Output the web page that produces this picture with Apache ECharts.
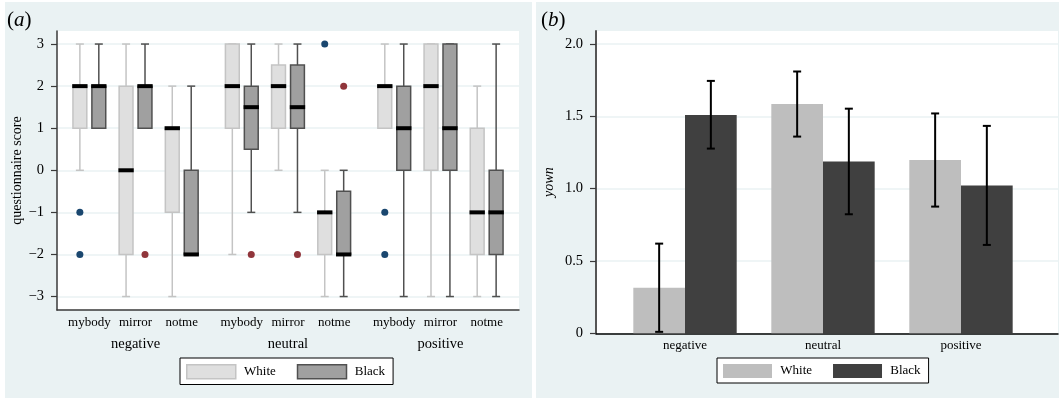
<!DOCTYPE html>
<html>
<head>
<meta charset="utf-8">
<script src="https://cdn.jsdelivr.net/npm/echarts@6/dist/echarts.min.js"></script>
<style>
  html, body { margin: 0; padding: 0; background: #ffffff; }
  .panel { position: absolute; top: 2px; height: 396px; background: #eaf2f3; }
  #panelA { left: 5px; width: 527px; }
  #panelB { left: 536px; width: 523px; }
</style>
</head>
<body>
<div id="panelA" class="panel"></div>
<div id="panelB" class="panel"></div>
<script>
// ---- data: panel (a), questionnaire scores ----
const groups = ['negative', 'neutral', 'positive'];
const conditions = ['mybody', 'mirror', 'notme'];
const scoreTicks = [-3, -2, -1, 0, 1, 2, 3];
const scoreTickLabels = ['−3', '−2', '−1', '0', '1', '2', '3'];

// [lower whisker, q1, median, q3, upper whisker]; rows run group by group, condition by condition
const whiteBoxes = [
  [0, 1, 2, 2, 3],
  [-3, -2, 0, 2, 3],
  [-3, -1, 1, 1, 2],
  [-2, 1, 2, 3, 3],
  [0, 1, 2, 2.5, 3],
  [-3, -2, -1, -1, 0],
  [1, 1, 2, 2, 3],
  [-3, 0, 2, 3, 3],
  [-3, -2, -1, 1, 2]
];
const blackBoxes = [
  [1, 1, 2, 2, 3],
  [1, 1, 2, 2, 3],
  [-2, -2, -2, 0, 2],
  [-1, 0.5, 1.5, 2, 3],
  [-1, 1, 1.5, 2.5, 3],
  [-3, -2, -2, -0.5, 0],
  [-3, 0, 1, 2, 3],
  [-3, 0, 1, 3, 3],
  [-3, -2, -1, 0, 3]
];
// outside values: [row, score]
const whiteOutliers = [[0, -1], [0, -2], [5, 3], [6, -1], [6, -2]];
const blackOutliers = [[1, -2], [3, -2], [4, -2], [5, 2]];

// ---- data: panel (b), yown means with confidence intervals ----
const yownGroups = ['negative', 'neutral', 'positive'];
const whiteMean = [0.315, 1.585, 1.198];
const whiteLow = [0.01, 1.36, 0.876];
const whiteHigh = [0.62, 1.81, 1.52];
const blackMean = [1.51, 1.187, 1.021];
const blackLow = [1.277, 0.823, 0.611];
const blackHigh = [1.745, 1.553, 1.434];
const yownTicks = [0, 0.5, 1, 1.5, 2];
const yownTickLabels = ['0', '0.5', '1.0', '1.5', '2.0'];

// ---- shared styling ----
const SERIF = 'Liberation Serif, Times New Roman, serif';
const AXIS_DARK = '#3a3a3a';
const GRID_LINE = '#eaf2f3';

// ---- panel (a) layout along the x scale ----
const GROUP_STEP = 3.3;   // one group = 3 slots plus a gap
const PAIR_OFFSET = 0.205;
const BOX_W = 0.3;
function slotX(row) { return Math.floor(row / 3) * GROUP_STEP + (row % 3); }
const slotPositions = whiteBoxes.map((_, i) => slotX(i));
const slotLabel = {};
slotPositions.forEach((x, i) => { slotLabel[x.toFixed(2)] = conditions[i % 3]; });
const groupPositions = groups.map((_, g) => slotX(g * 3 + 1));
const groupLabel = {};
groupPositions.forEach((x, g) => { groupLabel[x.toFixed(2)] = groups[g]; });

function boxSeries(name, rows, side, fill, edge) {
  return {
    type: 'custom',
    name: name,
    silent: true,
    data: rows.map((r, i) => [slotX(i) + side * PAIR_OFFSET].concat(r)),
    encode: { x: 0, y: [1, 2, 3, 4, 5] },
    renderItem: function (params, api) {
      const x = api.value(0);
      const lo = api.coord([x, api.value(1)]);
      const q1 = api.coord([x, api.value(2)]);
      const md = api.coord([x, api.value(3)]);
      const q3 = api.coord([x, api.value(4)]);
      const hi = api.coord([x, api.value(5)]);
      const w = api.size([BOX_W, 0])[0];
      const cx = lo[0];
      const cap = 8;
      const ls = { stroke: edge, lineWidth: 1.5 };
      return {
        type: 'group',
        children: [
          { type: 'line', shape: { x1: cx, y1: hi[1], x2: cx, y2: lo[1] }, style: ls },
          { type: 'line', shape: { x1: cx - cap / 2, y1: hi[1], x2: cx + cap / 2, y2: hi[1] }, style: ls },
          { type: 'line', shape: { x1: cx - cap / 2, y1: lo[1], x2: cx + cap / 2, y2: lo[1] }, style: ls },
          { type: 'rect', shape: { x: cx - w / 2, y: q3[1], width: w, height: q1[1] - q3[1] },
            style: { fill: fill, stroke: edge, lineWidth: 1.5 } },
          { type: 'rect', shape: { x: cx - w / 2 - 0.75, y: md[1] - 2, width: w + 1.5, height: 4 },
            style: { fill: '#000000' } }
        ]
      };
    }
  };
}

function outlierSeries(points, side, color) {
  return {
    type: 'scatter',
    silent: true,
    symbol: 'circle',
    symbolSize: 7,
    itemStyle: { color: color, opacity: 1 },
    data: points.map(([r, v]) => [slotX(r) + side * PAIR_OFFSET, v]),
    z: 5
  };
}

function panelTitle(letter) {
  return {
    text: '{p|(}{i|' + letter + '}{p|)}',
    padding: 0,
    textStyle: {
      fontWeight: 'normal',
      rich: {
        p: { fontFamily: SERIF, fontSize: 21, fontWeight: 'normal', color: '#000' },
        i: { fontFamily: SERIF, fontSize: 21, fontWeight: 'normal', fontStyle: 'italic', color: '#000' }
      }
    }
  };
}

function legendBox(left, top, items) {
  return {
    left: left,
    top: top,
    orient: 'horizontal',
    selectedMode: false,
    backgroundColor: '#ffffff',
    borderColor: '#000000',
    borderWidth: 1,
    borderRadius: 0,
    padding: [6, 8, 5, 6],
    itemWidth: 49,
    itemHeight: 14,
    itemGap: 21,
    icon: 'rect',
    formatter: n => ' ' + n,
    textStyle: { fontFamily: SERIF, fontSize: 13, color: '#000' },
    data: items
  };
}

const chartA = echarts.init(document.getElementById('panelA'), null, { renderer: 'canvas' });
chartA.setOption({
  animation: false,
  backgroundColor: 'transparent',
  title: Object.assign(panelTitle('a'), { left: 2, top: 8 }),
  legend: legendBox(175, 356, [
    { name: 'White', itemStyle: { color: '#dfdfdf', borderColor: '#c4c4c4', borderWidth: 1.5 } },
    { name: 'Black', itemStyle: { color: '#a0a0a0', borderColor: '#505050', borderWidth: 1.5 } }
  ]),
  grid: {
    left: 52, top: 29, width: 462, height: 279,
    outerBoundsMode: 'none', containLabel: false,
    show: true, backgroundColor: '#ffffff', borderWidth: 0
  },
  xAxis: [
    {
      type: 'value', position: 'bottom', min: -0.7, max: 9.3,
      axisLine: { show: true, onZero: false, lineStyle: { color: AXIS_DARK, width: 1.5 } },
      axisTick: { show: false },
      splitLine: { show: false },
      axisLabel: {
        customValues: slotPositions, margin: 6,
        formatter: v => slotLabel[Number(v).toFixed(2)] || '',
        fontFamily: SERIF, fontSize: 13, color: '#000'
      }
    },
    {
      type: 'value', position: 'bottom', min: -0.7, max: 9.3,
      axisLine: { show: false }, axisTick: { show: false }, splitLine: { show: false },
      axisLabel: {
        customValues: groupPositions, margin: 27,
        formatter: v => groupLabel[Number(v).toFixed(2)] || '',
        fontFamily: SERIF, fontSize: 14.5, color: '#000'
      }
    }
  ],
  yAxis: {
    type: 'value', min: -3.32, max: 3.31,
    name: 'questionnaire score', nameLocation: 'middle', nameGap: 33, nameMoveOverlap: false,
    nameTextStyle: { fontFamily: SERIF, fontSize: 14, color: '#000' },
    axisLine: { show: true, onZero: false, lineStyle: { color: AXIS_DARK, width: 1.5 } },
    axisTick: { show: true, length: 6, customValues: scoreTicks, lineStyle: { color: AXIS_DARK, width: 1.2 } },
    axisLabel: {
      customValues: scoreTicks, margin: 13,
      formatter: v => scoreTickLabels[scoreTicks.indexOf(Math.round(v))],
      fontFamily: SERIF, fontSize: 14.5, color: '#000'
    },
    splitLine: { show: true, lineStyle: { color: GRID_LINE, width: 1.5 } }
  },
  series: [
    boxSeries('White', whiteBoxes, -1, '#dfdfdf', '#c4c4c4'),
    boxSeries('Black', blackBoxes, 1, '#a0a0a0', '#505050'),
    outlierSeries(whiteOutliers, -1, '#1a476f'),
    outlierSeries(blackOutliers, 1, '#90353b')
  ]
});

// ---- panel (b) ----
const BAR_W = 0.3746;
function barSeries(name, means, lows, highs, side, color) {
  return {
    type: 'custom',
    name: name,
    silent: true,
    data: means.map((m, i) => [i, m, lows[i], highs[i]]),
    encode: { x: 0, y: [1, 2, 3] },
    renderItem: function (params, api) {
      const x = api.value(0) + side * BAR_W / 2;
      const top = api.coord([x, api.value(1)]);
      const base = api.coord([x, 0]);
      const lo = api.coord([x, api.value(2)]);
      const hi = api.coord([x, api.value(3)]);
      const w = api.size([BAR_W, 0])[0];
      const cx = top[0];
      const cap = 8;
      const es = { stroke: '#000000', lineWidth: 2 };
      return {
        type: 'group',
        children: [
          { type: 'rect', shape: { x: cx - w / 2, y: top[1], width: w, height: base[1] - top[1] },
            style: { fill: color } },
          { type: 'line', shape: { x1: cx, y1: hi[1], x2: cx, y2: lo[1] }, style: es, z2: 10 },
          { type: 'line', shape: { x1: cx - cap / 2, y1: hi[1], x2: cx + cap / 2, y2: hi[1] }, style: es, z2: 10 },
          { type: 'line', shape: { x1: cx - cap / 2, y1: lo[1], x2: cx + cap / 2, y2: lo[1] }, style: es, z2: 10 }
        ]
      };
    }
  };
}

const chartB = echarts.init(document.getElementById('panelB'), null, { renderer: 'canvas' });
chartB.setOption({
  animation: false,
  backgroundColor: 'transparent',
  title: Object.assign(panelTitle('b'), { left: 5, top: 8 }),
  legend: legendBox(181, 356, [
    { name: 'White', itemStyle: { color: '#bebebe' } },
    { name: 'Black', itemStyle: { color: '#404040' } }
  ]),
  grid: {
    left: 60, top: 29, width: 462, height: 302.3,
    outerBoundsMode: 'none', containLabel: false,
    show: true, backgroundColor: '#ffffff', borderWidth: 0
  },
  xAxis: {
    type: 'value', min: -0.645, max: 2.703,
    axisLine: { show: true, onZero: false, lineStyle: { color: '#000', width: 1.5 } },
    axisTick: { show: false },
    splitLine: { show: false },
    axisLabel: {
      customValues: yownGroups.map((_, i) => i), margin: 6,
      formatter: v => yownGroups[Math.round(v)],
      fontFamily: SERIF, fontSize: 13, color: '#000'
    }
  },
  yAxis: {
    type: 'value', min: 0, max: 2.09,
    name: 'yown', nameLocation: 'middle', nameGap: 40, nameMoveOverlap: false,
    nameTextStyle: { fontFamily: SERIF, fontSize: 14, fontStyle: 'italic', color: '#000' },
    axisLine: { show: true, onZero: false, lineStyle: { color: '#555', width: 2 } },
    axisTick: { show: true, length: 6, customValues: yownTicks, lineStyle: { color: AXIS_DARK, width: 1.2 } },
    axisLabel: {
      customValues: yownTicks, margin: 13,
      formatter: v => yownTickLabels[yownTicks.indexOf(Math.round(v * 2) / 2)],
      fontFamily: SERIF, fontSize: 14.5, color: '#000'
    },
    splitLine: { show: true, lineStyle: { color: GRID_LINE, width: 1.5 } }
  },
  series: [
    barSeries('White', whiteMean, whiteLow, whiteHigh, -1, '#bebebe'),
    barSeries('Black', blackMean, blackLow, blackHigh, 1, '#404040')
  ]
});
</script>
</body>
</html>
